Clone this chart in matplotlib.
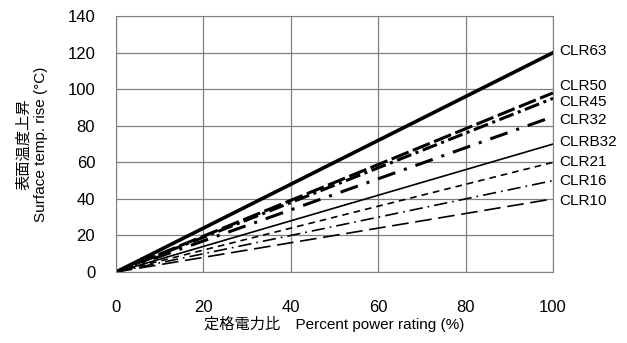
import matplotlib.pyplot as plt

plt.rcParams['font.family'] = ['Liberation Sans', 'Noto Sans CJK JP', 'DejaVu Sans']

# power rating (%) and temperature rise at 100%
power = [0, 100]
names = ['CLR63', 'CLR50', 'CLR45', 'CLR32', 'CLRB32', 'CLR21', 'CLR16', 'CLR10']
rise_full = [120, 98, 95, 85, 70, 60, 50, 40]
label_y = [121, 102, 93, 83, 71, 60, 50, 39]

styles = {
    'CLR63': dict(ls='-', lw=2.6),
    'CLR50': dict(ls=(0, (6, 1.5)), lw=2.2),
    'CLR45': dict(ls=(0, (5, 1.5, 1, 1.5)), lw=2.2),
    'CLR32': dict(ls=(0, (6, 3, 1, 3)), lw=2.2),
    'CLRB32': dict(ls='-', lw=1.2),
    'CLR21': dict(ls=(0, (4, 3)), lw=1.2),
    'CLR16': dict(ls=(0, (8, 3, 1, 3)), lw=1.2),
    'CLR10': dict(ls=(0, (10, 4)), lw=1.2),
}

fig = plt.figure(figsize=(6.27, 3.43), dpi=100)
ax = fig.add_axes([0.185, 0.207, 0.697, 0.746])

for name, r in zip(names, rise_full):
    ax.plot(power, [0, r], color='black', **styles[name])

for name, y in zip(names, label_y):
    ax.text(101.5, y, name, fontsize=11, va='center', ha='left', clip_on=False)

ax.set_xlim(0, 100)
ax.set_ylim(0, 140)
ax.set_xticks(range(0, 101, 20))
ax.set_yticks(range(0, 141, 20))
ax.grid(True, color='#808080', lw=0.9)
ax.tick_params(length=0, labelsize=12)
ax.tick_params(axis='x', pad=20)
ax.tick_params(axis='y', pad=15)
for s in ax.spines.values():
    s.set_color('#808080')

ax.set_xlabel('定格電力比　Percent power rating (%)', fontsize=11, labelpad=1)
ax.set_ylabel('表面温度上昇\nSurface temp. rise (°C)', fontsize=11, labelpad=14)

fig.savefig('out.png')
